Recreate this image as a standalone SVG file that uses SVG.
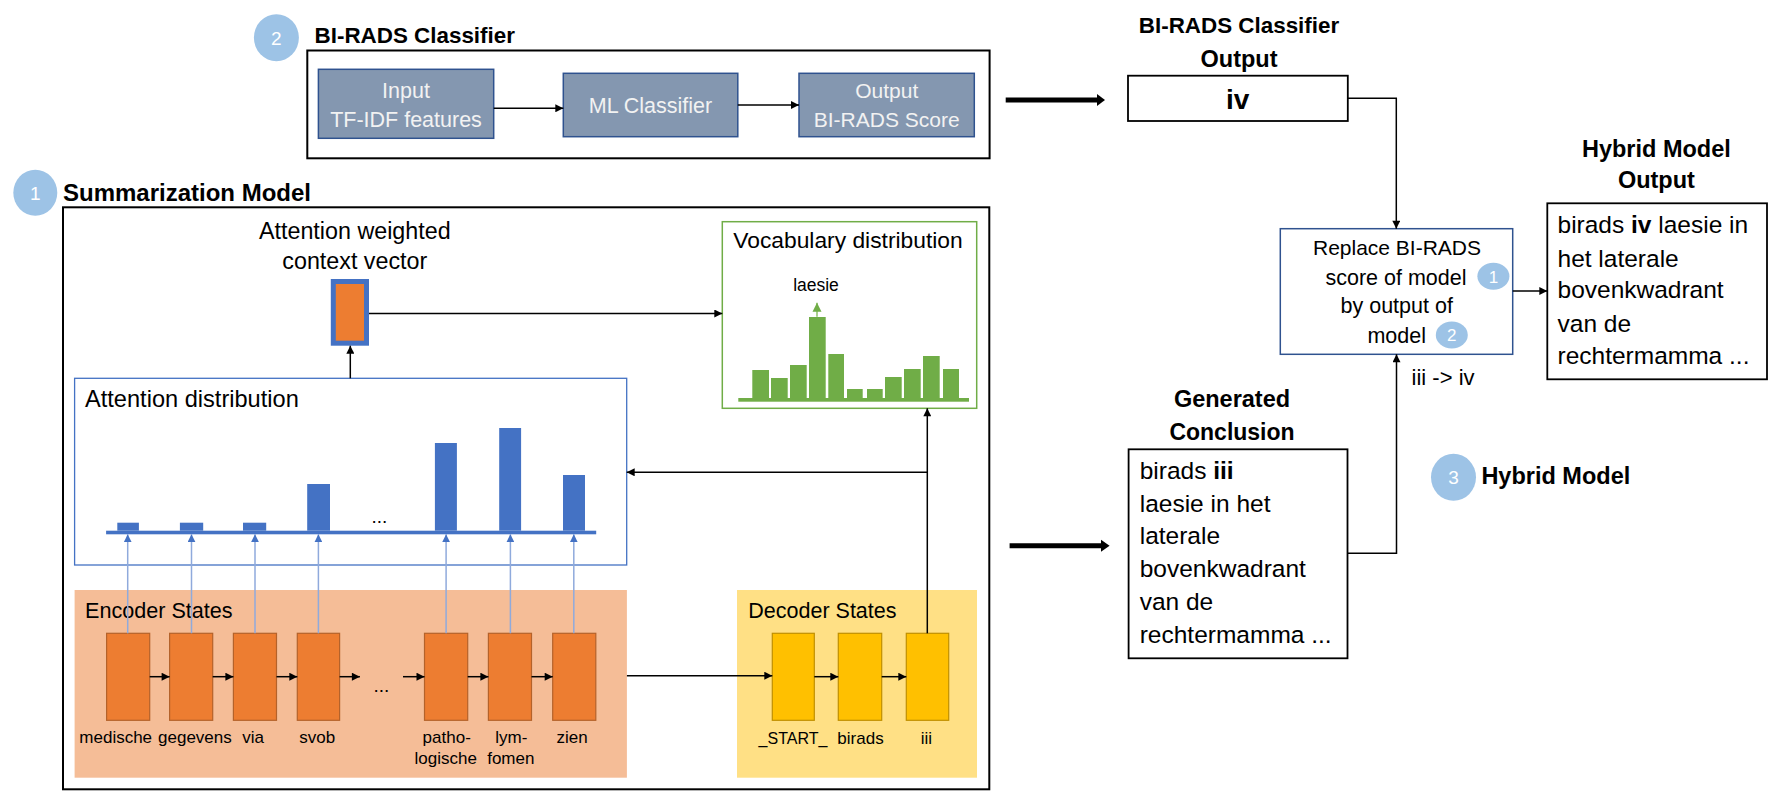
<svg xmlns="http://www.w3.org/2000/svg" width="1772" height="803" viewBox="0 0 1772 803">
<defs>
<style>
.t{font-family:"Liberation Sans",Arial,sans-serif;fill:#000}
.b{font-weight:bold}
.w{fill:#F2F2F2}
.c{text-anchor:middle}
.ln{stroke:#000;stroke-width:1.5;fill:none}
.bx{fill:#fff;stroke:#000;stroke-width:2}
.cls{fill:#8497B0;stroke:#2F528F;stroke-width:1.5}
.num{fill:#9DC3E6}
.enc{fill:#ED7D31;stroke:#B4622A;stroke-width:1.2}
.dec{fill:#FFC000;stroke:#C09000;stroke-width:1.2}
.ab{fill:#4472C4}
.gb{fill:#70AD47}
.bl{stroke:#8FAADC;stroke-width:1.5;fill:none}
</style>
<marker id="ah" viewBox="0 0 10 10" refX="10" refY="5" markerWidth="9" markerHeight="8" markerUnits="userSpaceOnUse" orient="auto"><path d="M0,0 L10,5 L0,10 z" fill="#000"/></marker>
<marker id="ahb" viewBox="0 0 10 10" refX="10" refY="5" markerWidth="8" markerHeight="8" markerUnits="userSpaceOnUse" orient="auto"><path d="M0,0 L10,5 L0,10 z" fill="#4472C4"/></marker>
<marker id="ahg" viewBox="0 0 10 10" refX="10" refY="5" markerWidth="9" markerHeight="10" markerUnits="userSpaceOnUse" orient="auto"><path d="M0,0 L10,5 L0,10 z" fill="#70AD47"/></marker>
</defs>
<rect width="1772" height="803" fill="#fff"/>

<!-- Classifier section -->
<g id="classifier">
<ellipse class="num" cx="276.4" cy="37.7" rx="22.5" ry="23.5"/>
<text class="t c" x="276.4" y="44.5" font-size="19" style="fill:#fff">2</text>
<text class="t b" x="314.6" y="42.7" font-size="22.4">BI-RADS Classifier</text>
<rect class="bx" x="307.3" y="50.5" width="682.3" height="107.8"/>
</g>
<g id="input">
<rect class="cls" x="318.4" y="69.3" width="175.3" height="69"/>
<text class="t w c" x="406" y="98" font-size="21.5">Input</text>
<text class="t w c" x="406" y="126.7" font-size="21.5">TF-IDF features</text>
</g>
<g id="ml">
<rect class="cls" x="563.3" y="73.3" width="174.5" height="63.4"/>
<text class="t w c" x="650.5" y="112.7" font-size="21.5">ML Classifier</text>
</g>
<g id="output">
<rect class="cls" x="799" y="73.3" width="175.3" height="63.4"/>
<text class="t w c" x="886.7" y="98.3" font-size="21">Output</text>
<text class="t w c" x="886.7" y="126.7" font-size="21">BI-RADS Score</text>
</g>

<!-- Classifier output -->
<g id="clsout">
<text class="t b c" x="1239" y="33.3" font-size="22.4">BI-RADS Classifier</text>
<text class="t b c" x="1239" y="66.7" font-size="23.5">Output</text>
<rect class="bx" x="1128" y="75.7" width="219.8" height="45.3" style="stroke-width:1.8"/>
<text class="t b" x="1226" y="109" font-size="28">iv</text>
</g>

<!-- Replace -->
<g id="replace">
<rect x="1280.3" y="228.7" width="232.4" height="125.6" fill="#fff" stroke="#2F528F" stroke-width="1.5"/>
<text class="t c" x="1397" y="255" font-size="21">Replace BI-RADS</text>
<text class="t c" x="1396" y="285" font-size="21.5">score of model</text>
<ellipse class="num" cx="1493.4" cy="276.3" rx="16" ry="13.5"/>
<text class="t c" x="1493.4" y="282.5" font-size="17" style="fill:#fff">1</text>
<text class="t c" x="1396.7" y="313.3" font-size="21.5">by output of</text>
<text class="t c" x="1396.7" y="343.3" font-size="21.5">model</text>
<ellipse class="num" cx="1451.8" cy="335" rx="16" ry="13.5"/>
<text class="t c" x="1451.8" y="341.2" font-size="17" style="fill:#fff">2</text>
<text class="t" x="1411.6" y="385" font-size="22">iii -&gt; iv</text>
</g>

<!-- Hybrid output -->
<g id="hybridout">
<text class="t b c" x="1656.4" y="156.7" font-size="23.5">Hybrid Model</text>
<text class="t b c" x="1656.4" y="188.3" font-size="23.5">Output</text>
<rect class="bx" x="1547.3" y="203.3" width="219.7" height="176" style="stroke-width:1.8"/>
<text class="t" x="1557.5" y="233.3" font-size="24.5">birads <tspan class="b">iv</tspan> laesie in</text>
<text class="t" x="1557.5" y="266.7" font-size="24.5">het laterale</text>
<text class="t" x="1557.5" y="298.3" font-size="24.5">bovenkwadrant</text>
<text class="t" x="1557.5" y="331.7" font-size="24.5">van de</text>
<text class="t" x="1557.5" y="364.3" font-size="24.5">rechtermamma ...</text>
</g>

<!-- Generated conclusion -->
<g id="generated">
<text class="t b c" x="1232" y="406.7" font-size="23.5">Generated</text>
<text class="t b c" x="1232" y="440" font-size="23">Conclusion</text>
<rect class="bx" x="1128.6" y="449.3" width="218.9" height="209" style="stroke-width:1.8"/>
<text class="t" x="1139.7" y="479" font-size="24.5">birads <tspan class="b">iii</tspan></text>
<text class="t" x="1139.7" y="511.7" font-size="24.5">laesie in het</text>
<text class="t" x="1139.7" y="544.3" font-size="24.5">laterale</text>
<text class="t" x="1139.7" y="576.7" font-size="24.5">bovenkwadrant</text>
<text class="t" x="1139.7" y="610" font-size="24.5">van de</text>
<text class="t" x="1139.7" y="643.3" font-size="24.5">rechtermamma ...</text>
</g>

<g id="hybridlabel">
<ellipse class="num" cx="1453.5" cy="477.3" rx="22.5" ry="23.5"/>
<text class="t c" x="1453.5" y="484" font-size="19" style="fill:#fff">3</text>
<text class="t b" x="1481.4" y="484" font-size="23.5">Hybrid Model</text>
</g>

<!-- Summarization model -->
<g id="summarization">
<ellipse class="num" cx="35.3" cy="192.8" rx="22" ry="23"/>
<text class="t c" x="35.3" y="199.5" font-size="19" style="fill:#fff">1</text>
<text class="t b" x="63" y="200.7" font-size="24">Summarization Model</text>
<rect class="bx" x="63" y="207.3" width="926.3" height="582"/>
</g>

<g id="context">
<text class="t c" x="354.8" y="239.3" font-size="23.3">Attention weighted</text>
<text class="t c" x="354.8" y="269.3" font-size="23.3">context vector</text>
<rect x="333.3" y="281.5" width="33.2" height="61.7" fill="#ED7D31" stroke="#4472C4" stroke-width="5"/>
</g>

<g id="vocab">
<rect x="722.3" y="221.7" width="254.4" height="186.6" fill="#fff" stroke="#70AD47" stroke-width="1.5"/>
<text class="t" x="733.3" y="248.3" font-size="22.8">Vocabulary distribution</text>
<text class="t c" x="816" y="291" font-size="17.5">laesie</text>
<line x1="817" y1="316.7" x2="817" y2="302.7" stroke="#A9D18E" stroke-width="2" marker-end="url(#ahg)"/>
<rect class="gb" x="738.3" y="398" width="230.7" height="3.7"/>
<rect class="gb" x="752.3" y="370" width="16.7" height="28"/>
<rect class="gb" x="771" y="378" width="16.7" height="20"/>
<rect class="gb" x="790" y="365" width="16.7" height="33"/>
<rect class="gb" x="809" y="317" width="16.7" height="81"/>
<rect class="gb" x="828.3" y="354" width="15.7" height="44"/>
<rect class="gb" x="847" y="389" width="15.7" height="9"/>
<rect class="gb" x="867" y="389" width="15.7" height="9"/>
<rect class="gb" x="885" y="377" width="16.7" height="21"/>
<rect class="gb" x="904" y="369" width="16.7" height="29"/>
<rect class="gb" x="923" y="356" width="16.7" height="42"/>
<rect class="gb" x="943" y="369" width="16" height="29"/>
</g>

<g id="attention">
<rect x="74.6" y="378.3" width="552.1" height="186.7" fill="#fff" stroke="#4472C4" stroke-width="1.3"/>
<text class="t" x="85" y="406.7" font-size="23.6">Attention distribution</text>
<rect class="ab" x="106.1" y="530.7" width="490.1" height="3.6"/>
<rect class="ab" x="117.3" y="522.7" width="21.6" height="8"/>
<rect class="ab" x="179.9" y="522.7" width="23.3" height="8"/>
<rect class="ab" x="243" y="522.7" width="23.2" height="8"/>
<rect class="ab" x="307.2" y="484" width="22.8" height="46.7"/>
<rect class="ab" x="434.9" y="443" width="22" height="87.7"/>
<rect class="ab" x="499.2" y="428" width="21.9" height="102.7"/>
<rect class="ab" x="563" y="475" width="22" height="55.7"/>
<text class="t c" x="379.4" y="523.3" font-size="19">...</text>
</g>

<g id="encoder">
<rect x="74.6" y="590" width="552.3" height="187.7" fill="#F5BD97"/>
<text class="t" x="85" y="618.3" font-size="21.6">Encoder States</text>
<rect class="enc" x="106.6" y="633.3" width="43.1" height="87"/>
<rect class="enc" x="169.6" y="633.3" width="43.1" height="87"/>
<rect class="enc" x="233.4" y="633.3" width="43.1" height="87"/>
<rect class="enc" x="297.3" y="633.3" width="42.3" height="87"/>
<rect class="enc" x="424.5" y="633.3" width="43.2" height="87"/>
<rect class="enc" x="488.4" y="633.3" width="43.1" height="87"/>
<rect class="enc" x="552.7" y="633.3" width="43.1" height="87"/>
<text class="t c" x="381.4" y="691.7" font-size="19">...</text>
<text class="t c" x="115.7" y="743.3" font-size="17">medische</text>
<text class="t c" x="194.9" y="743.3" font-size="17">gegevens</text>
<text class="t c" x="253" y="743.3" font-size="17">via</text>
<text class="t c" x="317.2" y="743.3" font-size="17">svob</text>
<text class="t c" x="446.7" y="743.3" font-size="17">patho-</text>
<text class="t c" x="445.7" y="764" font-size="17">logische</text>
<text class="t c" x="511.4" y="743.3" font-size="17">lym-</text>
<text class="t c" x="510.8" y="764" font-size="17">fomen</text>
<text class="t c" x="572" y="743.3" font-size="17">zien</text>
</g>

<g id="decoder">
<rect x="737" y="590" width="240" height="187.7" fill="#FFE085"/>
<text class="t" x="748.3" y="618.3" font-size="21.5">Decoder States</text>
<rect class="dec" x="772.3" y="633.3" width="42" height="87"/>
<rect class="dec" x="838.3" y="633.3" width="43.4" height="87"/>
<rect class="dec" x="906.3" y="633.3" width="42.4" height="87"/>
<text class="t c" x="793" y="744.3" font-size="16">_START_</text>
<text class="t c" x="860.5" y="744.3" font-size="17">birads</text>
<text class="t c" x="926.3" y="744.3" font-size="17">iii</text>
</g>

<!-- Connectors -->
<g id="connectors">
<path class="ln" d="M493.7,108.3 H563.3" marker-end="url(#ah)"/>
<path class="ln" d="M737.8,105 H799" marker-end="url(#ah)"/>
<path d="M1005.7,100 H1099" stroke="#000" stroke-width="5" fill="none"/>
<path d="M1097,94 L1105,100 L1097,106 z" fill="#000"/>
<path d="M1009.6,545.7 H1103" stroke="#000" stroke-width="5" fill="none"/>
<path d="M1101,539.7 L1109.6,545.7 L1101,551.7 z" fill="#000"/>
<path class="ln" d="M1347.8,98.3 H1396.3 V228.7" marker-end="url(#ah)"/>
<path class="ln" d="M1347.5,553.3 H1396.5 V354.3" marker-end="url(#ah)"/>
<path class="ln" d="M1512.7,291 H1547.3" marker-end="url(#ah)"/>
<path class="ln" d="M369,313.5 H722.3" marker-end="url(#ah)"/>
<path class="ln" d="M350.3,378.3 V345.7" marker-end="url(#ah)"/>
<path class="ln" d="M927.3,633.3 V408.3" marker-end="url(#ah)"/>
<path class="ln" d="M927.3,472.3 H626.7" marker-end="url(#ah)"/>
<path class="ln" d="M626.9,675.7 H772.3" marker-end="url(#ah)"/>
<path class="ln" d="M149.7,676.7 H169.6" marker-end="url(#ah)"/>
<path class="ln" d="M212.7,676.7 H233.4" marker-end="url(#ah)"/>
<path class="ln" d="M276.5,676.7 H297.3" marker-end="url(#ah)"/>
<path class="ln" d="M339.6,676.7 H359.9" marker-end="url(#ah)"/>
<path class="ln" d="M403,676.7 H424.5" marker-end="url(#ah)"/>
<path class="ln" d="M467.7,676.7 H488.4" marker-end="url(#ah)"/>
<path class="ln" d="M531.5,676.7 H552.7" marker-end="url(#ah)"/>
<path class="ln" d="M814.3,676.7 H838.3" marker-end="url(#ah)"/>
<path class="ln" d="M881.7,676.7 H906.3" marker-end="url(#ah)"/>
<path class="bl" d="M127.7,633.3 V534.3" marker-end="url(#ahb)"/>
<path class="bl" d="M191.5,633.3 V534.3" marker-end="url(#ahb)"/>
<path class="bl" d="M255,633.3 V534.3" marker-end="url(#ahb)"/>
<path class="bl" d="M318.4,633.3 V534.3" marker-end="url(#ahb)"/>
<path class="bl" d="M446.1,633.3 V534.3" marker-end="url(#ahb)"/>
<path class="bl" d="M510.4,633.3 V534.3" marker-end="url(#ahb)"/>
<path class="bl" d="M573.8,633.3 V534.3" marker-end="url(#ahb)"/>
</g>
</svg>
